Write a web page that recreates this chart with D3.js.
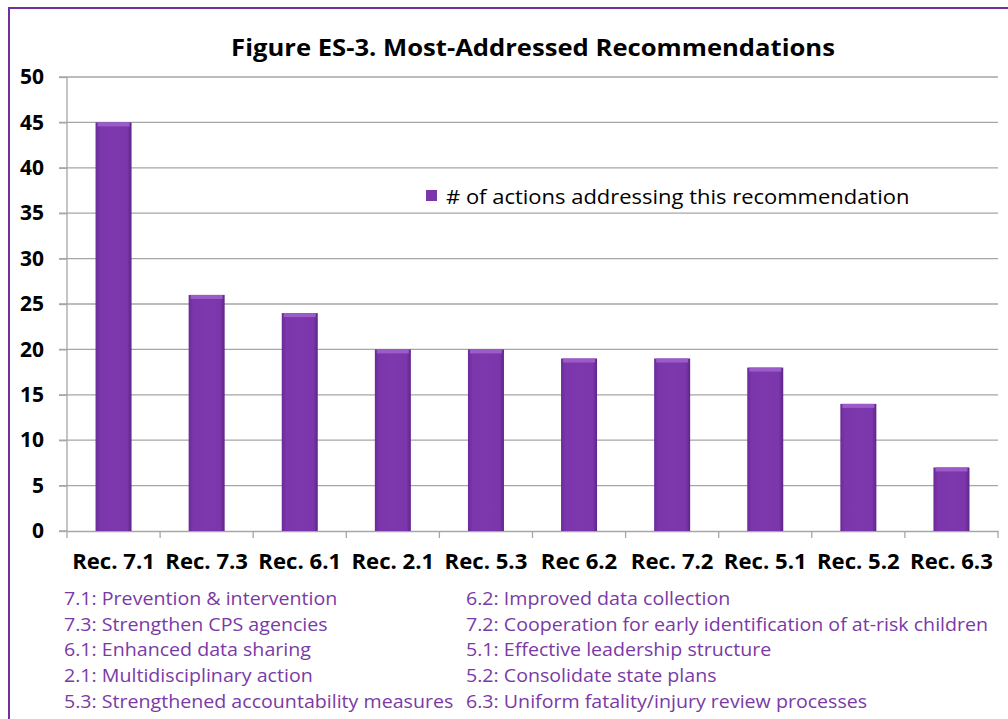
<!DOCTYPE html>
<html><head><meta charset="utf-8">
<script src="https://cdn.jsdelivr.net/npm/d3@7"></script>
<style>html,body{margin:0;padding:0;background:#fff;}</style>
</head><body>
<svg id="c" width="1008" height="719"></svg>
<script>
const categories = ["Rec. 7.1","Rec. 7.3","Rec. 6.1","Rec. 2.1","Rec. 5.3","Rec 6.2","Rec. 7.2","Rec. 5.1","Rec. 5.2","Rec. 6.3"];
const values = [45, 26, 24, 20, 20, 19, 19, 18, 14, 7];
const yTicks = [0,5,10,15,20,25,30,35,40,45,50];
const seriesName = "# of actions addressing this recommendation";
const titleText = "Figure ES-3. Most-Addressed Recommendations";
const notesLeft = ["7.1: Prevention & intervention","7.3: Strengthen CPS agencies","6.1: Enhanced data sharing","2.1: Multidisciplinary action","5.3: Strengthened accountability measures"];
const notesRight = ["6.2: Improved data collection","7.2: Cooperation for early identification of at-risk children","5.1: Effective leadership structure","5.2: Consolidate state plans","6.3: Uniform fatality/injury review processes"];

(function(){
const svg = d3.select("#c");
const font = "'Open Sans', sans-serif";
const purple = "#7030A0";

const defs = svg.append("defs");
const g1 = defs.append("linearGradient").attr("id","barg").attr("x1","0").attr("x2","1").attr("y1","0").attr("y2","0");
g1.append("stop").attr("offset","0%").attr("stop-color","#6a2a98");
g1.append("stop").attr("offset","12%").attr("stop-color","#7a36aa");
g1.append("stop").attr("offset","50%").attr("stop-color","#7d38ad");
g1.append("stop").attr("offset","88%").attr("stop-color","#7a36aa");
g1.append("stop").attr("offset","100%").attr("stop-color","#5e2488");

svg.append("rect").attr("x",9).attr("y",8).attr("width",1010).attr("height",720)
  .attr("fill","none").attr("stroke",purple).attr("stroke-width",2);

const pL = 67, pR = 998, pT = 77, pB = 531;
const x = d3.scaleBand().domain(categories).range([pL,pR]).paddingInner(0).paddingOuter(0);
const y = d3.scaleLinear().domain([0,50]).range([pB, pT]);
const barW = 36;

svg.append("g").selectAll("line").data(yTicks.filter(d=>d>0)).join("line")
  .attr("x1",pL-8).attr("x2",pR).attr("y1",d=>y(d)).attr("y2",d=>y(d))
  .attr("stroke","#a6a6a6").attr("stroke-width",1.3);

const yAxis = d3.axisLeft(y).tickValues(yTicks).tickSize(8).tickPadding(15);
const yg = svg.append("g").attr("transform",`translate(${pL},0)`).call(yAxis);
yg.select(".domain").attr("stroke","#a6a6a6").attr("stroke-width",1.3).attr("d",`M-8,${pB}H0V${pT}`);
yg.selectAll(".tick line").attr("stroke","#a6a6a6").attr("stroke-width",1.3);
yg.selectAll(".tick text").attr("font-family",font).attr("font-weight","bold").attr("font-size",21).attr("fill","#000");

const xAxis = d3.axisBottom(x).tickSize(0).tickPadding(0);
const xg = svg.append("g").attr("transform",`translate(0,${pB})`).call(xAxis);
xg.select(".domain").attr("stroke","#a6a6a6").attr("stroke-width",1.3);
xg.selectAll(".tick text").attr("font-family",font).attr("font-weight","bold").attr("font-size",20.5).attr("fill","#000")
  .attr("y",0).attr("dy",0).attr("transform","translate(0,38) scale(1.08,1)");
const bounds = categories.map(c=>x(c)).concat([pR]);
svg.append("g").selectAll("line").data(bounds).join("line")
  .attr("x1",d=>d).attr("x2",d=>d).attr("y1",pB).attr("y2",pB+7)
  .attr("stroke","#a6a6a6").attr("stroke-width",1.3);

const bars = svg.append("g");
bars.selectAll("rect.bar").data(values).join("rect").attr("class","bar")
  .attr("x",(d,i)=>x(categories[i])+x.bandwidth()/2-barW/2)
  .attr("width",barW)
  .attr("y",d=>y(d)).attr("height",d=>y(0)-y(d))
  .attr("fill","url(#barg)");
bars.selectAll("rect.cap").data(values).join("rect").attr("class","cap")
  .attr("x",(d,i)=>x(categories[i])+x.bandwidth()/2-barW/2+2)
  .attr("width",barW-4)
  .attr("y",d=>y(d)).attr("height",4)
  .attr("fill","#9b5cc9");

function stretched(parent, tx, ty, sx, txt){
  return parent.append("text").attr("transform",`translate(${tx},${ty}) scale(${sx},1)`).text(txt);
}

stretched(svg, 533, 56, 1.10, titleText).attr("text-anchor","middle")
  .attr("font-family",font).attr("font-weight","bold").attr("font-size",23.3);

svg.append("rect").attr("x",426).attr("y",190).attr("width",11).attr("height",11).attr("fill","#7a36aa");
stretched(svg, 446, 204, 1.127, seriesName).attr("font-family",font).attr("font-size",19.5).attr("fill","#000");

const rowY = [605, 631, 656, 682, 708];
const gl = svg.append("g"), gr = svg.append("g");
notesLeft.forEach((t,i)=>stretched(gl, 64, rowY[i], 1.09, t).attr("font-family",font).attr("font-size",18).attr("fill","#7a3aa6"));
notesRight.forEach((t,i)=>stretched(gr, 466, rowY[i], 1.09, t).attr("font-family",font).attr("font-size",18).attr("fill","#7a3aa6"));
})();
</script>
</body></html>
